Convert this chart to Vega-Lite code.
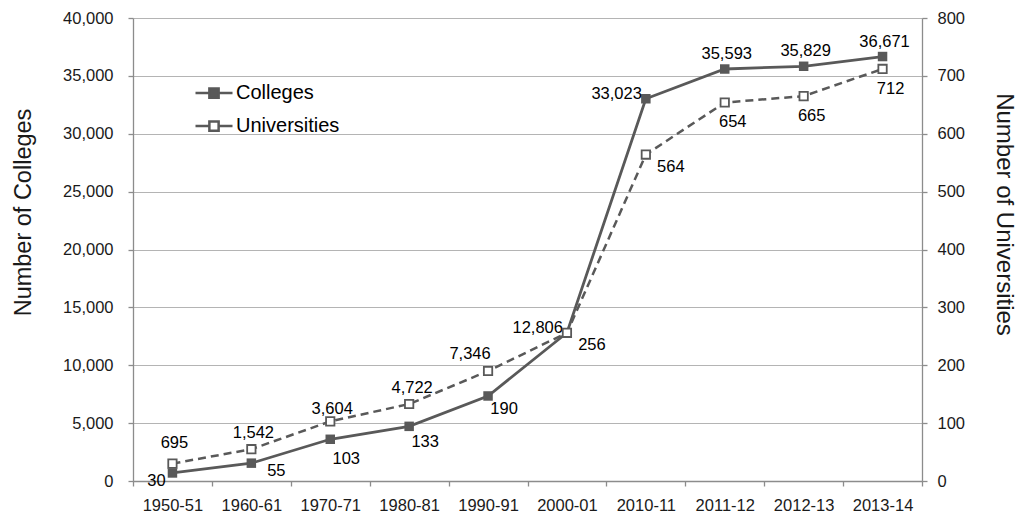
{
  "$schema": "https://vega.github.io/schema/vega-lite/v6.json",
  "autosize": {"type": "none"},
  "padding": {"left": 133, "top": 18, "right": 99, "bottom": 38},
  "width": 789,
  "height": 463,
  "data": {
    "values": [
      {"year": "1950-51", "colleges": 695, "universities": 30},
      {"year": "1960-61", "colleges": 1542, "universities": 55},
      {"year": "1970-71", "colleges": 3604, "universities": 103},
      {"year": "1980-81", "colleges": 4722, "universities": 133},
      {"year": "1990-91", "colleges": 7346, "universities": 190},
      {"year": "2000-01", "colleges": 12806, "universities": 256},
      {"year": "2010-11", "colleges": 33023, "universities": 564},
      {"year": "2011-12", "colleges": 35593, "universities": 654},
      {"year": "2012-13", "colleges": 35829, "universities": 665},
      {"year": "2013-14", "colleges": 36671, "universities": 712}
    ]
  },
  "encoding": {
    "x": {
      "field": "year",
      "type": "ordinal",
      "sort": null,
      "scale": {"type": "band", "paddingInner": 0, "paddingOuter": 0},
      "axis": {
        "title": null,
        "tickBand": "extent",
        "labelAngle": 0,
        "labelFontSize": 16.5,
        "labelPadding": 11,
        "tickSize": 5,
        "grid": false
      }
    }
  },
  "layer": [
    {
      "encoding": {
        "y": {
          "field": "colleges",
          "type": "quantitative",
          "scale": {"domain": [0, 40000], "nice": false},
          "axis": {
            "orient": "left",
            "title": "Number of Colleges",
            "values": [0, 5000, 10000, 15000, 20000, 25000, 30000, 35000, 40000],
            "format": ",d",
            "grid": true,
            "gridColor": "#b4b4b4",
            "gridWidth": 1.2,
            "tickSize": 5,
            "labelPadding": 15,
            "labelFontSize": 16.5,
            "titleFontSize": 23.5,
            "titleFontWeight": "normal",
            "titleX": -110,
            "titleY": 194,
            "titleBaseline": "middle"
          }
        }
      },
      "layer": [
        {
          "mark": {"type": "line", "color": "#595959", "strokeWidth": 2.8}
        },
        {
          "mark": {"type": "point", "shape": "square", "filled": true, "size": 90, "opacity": 1},
          "encoding": {
            "fill": {
              "datum": "Colleges",
              "type": "nominal",
              "scale": {"domain": ["Colleges", "Universities"], "range": ["#595959", "#ffffff"]},
              "legend": {
                "title": null,
                "orient": "none",
                "legendX": 61,
                "legendY": 55,
                "padding": 0,
                "rowPadding": 3,
                "symbolType": "M-1,0H-0.25M0.25,0H1M-0.25,-0.25H0.25V0.25H-0.25Z",
                "symbolSize": 1369,
                "symbolStrokeColor": "#595959",
                "symbolStrokeWidth": 2.5,
                "symbolOpacity": 1,
                "labelFontSize": 20,
                "labelOffset": 2,
                "labelColor": "#000000",
                "encode": {
                  "symbols": {"update": {"stroke": {"value": "#595959"}, "strokeWidth": {"value": 2.5}, "opacity": {"value": 1}}}
                }
              }
            }
          }
        },
        {
          "transform": [{"filter": {"field": "year", "oneOf": ["1950-51", "1960-61", "1970-71"]}}],
          "mark": {"type": "text", "fontSize": 16.5, "color": "#000000", "dx": 2, "dy": -30},
          "encoding": {"text": {"field": "colleges", "type": "quantitative", "format": ",d"}}
        },
        {
          "transform": [{"filter": {"field": "year", "oneOf": ["1980-81"]}}],
          "mark": {"type": "text", "fontSize": 16.5, "color": "#000000", "dx": 3, "dy": -38},
          "encoding": {"text": {"field": "colleges", "type": "quantitative", "format": ",d"}}
        },
        {
          "transform": [{"filter": {"field": "year", "oneOf": ["1990-91"]}}],
          "mark": {"type": "text", "fontSize": 16.5, "color": "#000000", "dx": -18, "dy": -42},
          "encoding": {"text": {"field": "colleges", "type": "quantitative", "format": ",d"}}
        },
        {
          "transform": [{"filter": {"field": "year", "oneOf": ["2000-01", "2010-11"]}}],
          "mark": {"type": "text", "fontSize": 16.5, "color": "#000000", "align": "right", "dx": -4, "dy": -5},
          "encoding": {"text": {"field": "colleges", "type": "quantitative", "format": ",d"}}
        },
        {
          "transform": [{"filter": {"field": "year", "oneOf": ["2011-12", "2012-13", "2013-14"]}}],
          "mark": {"type": "text", "fontSize": 16.5, "color": "#000000", "dx": 2, "dy": -15},
          "encoding": {"text": {"field": "colleges", "type": "quantitative", "format": ",d"}}
        }
      ]
    },
    {
      "encoding": {
        "y": {
          "field": "universities",
          "type": "quantitative",
          "scale": {"domain": [0, 800], "nice": false},
          "axis": {
            "orient": "right",
            "title": "Number of Universities",
            "values": [0, 100, 200, 300, 400, 500, 600, 700, 800],
            "format": "d",
            "grid": false,
            "tickSize": 5,
            "labelPadding": 10,
            "labelFontSize": 16.5,
            "titleFontSize": 24,
            "titleFontWeight": "normal",
            "titleX": 81,
            "titleY": 196,
            "titleBaseline": "middle"
          }
        }
      },
      "layer": [
        {
          "mark": {"type": "line", "color": "#595959", "strokeWidth": 2.5, "strokeDash": [8, 5]}
        },
        {
          "mark": {"type": "point", "shape": "square", "filled": true, "size": 70, "opacity": 1, "stroke": "#595959", "strokeWidth": 1.8},
          "encoding": {
            "fill": {"datum": "Universities", "type": "nominal"}
          }
        },
        {
          "transform": [{"filter": {"field": "year", "oneOf": ["1950-51"]}}],
          "mark": {"type": "text", "fontSize": 16.5, "color": "#000000", "dx": -16, "dy": 17},
          "encoding": {"text": {"field": "universities", "type": "quantitative", "format": "d"}}
        },
        {
          "transform": [{"filter": {"field": "year", "oneOf": ["1960-61"]}}],
          "mark": {"type": "text", "fontSize": 16.5, "color": "#000000", "dx": 25, "dy": 22},
          "encoding": {"text": {"field": "universities", "type": "quantitative", "format": "d"}}
        },
        {
          "transform": [{"filter": {"field": "year", "oneOf": ["1970-71", "1980-81", "1990-91"]}}],
          "mark": {"type": "text", "fontSize": 16.5, "color": "#000000", "dx": 16, "dy": 38},
          "encoding": {"text": {"field": "universities", "type": "quantitative", "format": "d"}}
        },
        {
          "transform": [{"filter": {"field": "year", "oneOf": ["2000-01", "2010-11"]}}],
          "mark": {"type": "text", "fontSize": 16.5, "color": "#000000", "dx": 25, "dy": 12},
          "encoding": {"text": {"field": "universities", "type": "quantitative", "format": "d"}}
        },
        {
          "transform": [{"filter": {"field": "year", "oneOf": ["2011-12", "2012-13", "2013-14"]}}],
          "mark": {"type": "text", "fontSize": 16.5, "color": "#000000", "dx": 8, "dy": 20},
          "encoding": {"text": {"field": "universities", "type": "quantitative", "format": "d"}}
        }
      ]
    }
  ],
  "resolve": {"scale": {"y": "independent"}, "axis": {"y": "independent"}},
  "config": {
    "font": "Liberation Sans",
    "view": {"stroke": null},
    "axis": {
      "domainColor": "#8c8c8c",
      "domainWidth": 1.3,
      "tickColor": "#8c8c8c",
      "tickWidth": 1.3,
      "labelColor": "#1a1a1a",
      "titleColor": "#1a1a1a",
      "labelFont": "Liberation Sans",
      "titleFont": "Liberation Sans"
    },
    "legend": {"labelFont": "Liberation Sans"}
  }
}
